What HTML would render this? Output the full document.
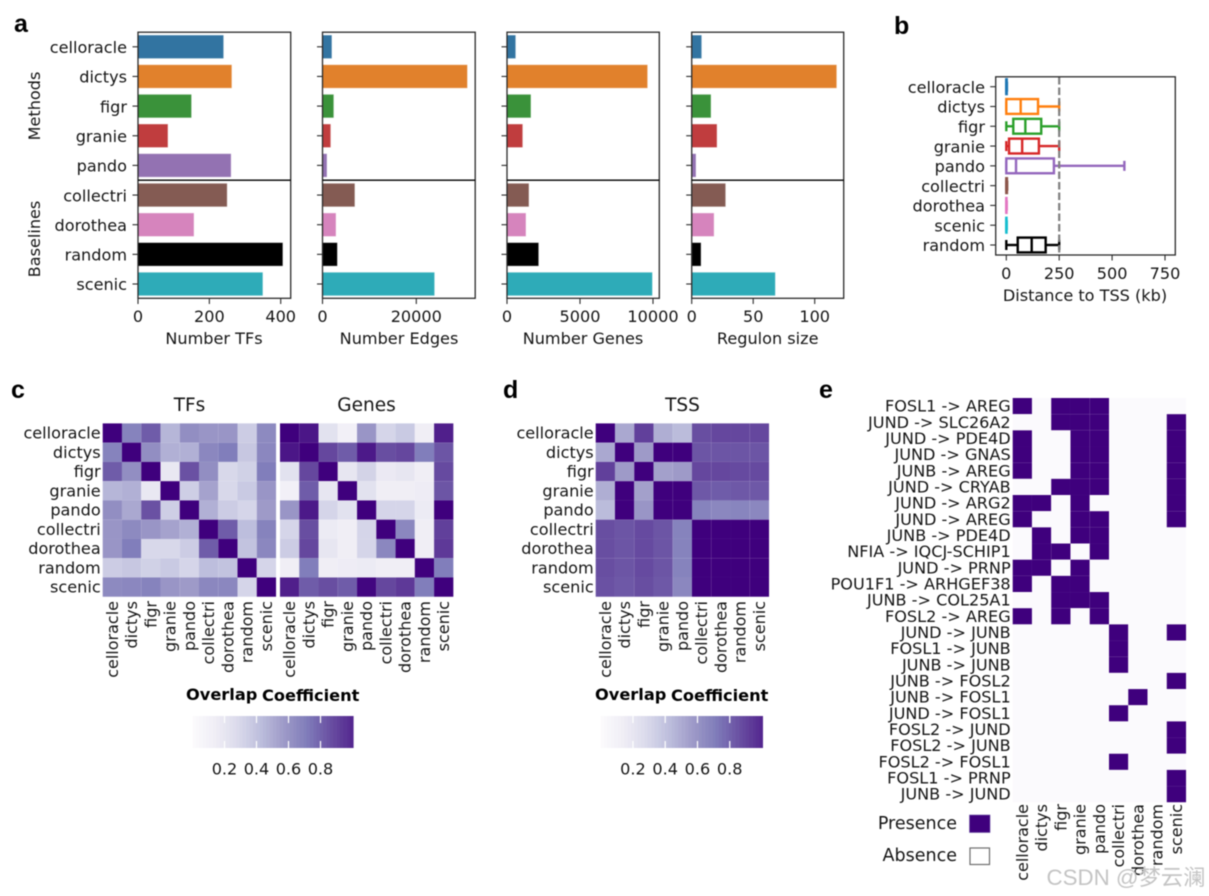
<!DOCTYPE html>
<html lang="en">
<head>
<meta charset="utf-8">
<title>GRN method comparison figure</title>
<style>
html,body{margin:0;padding:0;background:#fff;width:1209px;height:896px;overflow:hidden}
svg{display:block;filter:blur(.45px)}
text{font-family:"DejaVu Sans",sans-serif;fill:#151515;font-size:16.1px}
.panel{font-family:"Liberation Sans",sans-serif;font-weight:700;font-size:25px;fill:#000}
.title{font-size:18.5px}
.cbt{font-weight:700;font-size:16.2px;fill:#000}
.mid{text-anchor:middle}
.end{text-anchor:end}
.c{dominant-baseline:central}
</style>
</head>
<body>
<svg id="fig" width="1209" height="896" viewBox="0 0 1209 896" xmlns="http://www.w3.org/2000/svg">
  <rect width="1209" height="896" fill="#fff"/>
  <text class="panel" x="14" y="32">a</text>
  <text class="panel" x="894" y="34">b</text>
  <text class="panel" x="11" y="398">c</text>
  <text class="panel" x="503" y="398">d</text>
  <text class="panel" x="819" y="398">e</text>

  <text class="mid c" transform="translate(34.5,106) rotate(-90)">Methods</text>
  <text class="mid c" transform="translate(34.5,239) rotate(-90)">Baselines</text>
  <text class="mid c" x="214" y="338.7">Number TFs</text>
  <text class="mid c" x="399" y="338.7">Number Edges</text>
  <text class="mid c" x="583" y="338.7">Number Genes</text>
  <text class="mid c" x="767.7" y="338.7">Regulon size</text>
  <text class="mid c" x="1085" y="295.3">Distance to TSS (kb)</text>

  <text class="title mid c" x="189.5" y="405.5">TFs</text>
  <text class="title mid c" x="366.5" y="405.5">Genes</text>
  <text class="title mid c" x="682.5" y="405.5">TSS</text>

  <text class="cbt" x="186" y="700">Overlap<tspan x="262" y="701">Coefficient</tspan></text>
  <text class="cbt" x="595" y="700">Overlap<tspan x="671" y="701">Coefficient</tspan></text>

  <text class="end c" style="font-size:17.5px" x="957" y="824">Presence</text>
  <rect x="969.5" y="815" width="20.5" height="17.5" fill="#3f007d" stroke="#6a51a3" stroke-width=".6"/>
  <text class="end c" style="font-size:17.5px" x="957" y="856">Absence</text>
  <rect x="970" y="848" width="19.5" height="16.5" fill="#fff" stroke="#6e6e6e" stroke-width="1.2"/>

  <g id="marks"></g>

  <text x="1046.5" y="885" style="font-family:'Liberation Sans','Noto Sans CJK SC',sans-serif;font-size:22.3px;fill:#c4c4c4">CSDN @梦云澜</text>
</svg>
<script>
// ---------- data: panel a ----------
const barCategories = ['celloracle','dictys','figr','granie','pando','collectri','dorothea','random','scenic'];
const barColors = ['#3274a1','#e1812c','#3a923a','#c03d3e','#9372b2','#845b53','#d684bd','#000000','#2eabb8'];
const numberTFs = [240,263,150,84,261,250,157,406,350];
const numberEdges = [2000,30900,2400,1750,960,6900,2880,3170,23900];
const numberGenes = [595,9630,1640,1075,30,1505,1300,2170,9960];
const regulonSize = [8.1,117.9,15.7,20.6,3.5,27.6,18.2,7.6,68];
const tfTicks = [0,200,400];
const edgeTicks = [0,20000];
const geneTicks = [0,5000,10000];
const regulonTicks = [0,50,100];

// ---------- data: panel b ----------
const boxCategories = ['celloracle','dictys','figr','granie','pando','collectri','dorothea','scenic','random'];
const boxColors = ['#1f77b4','#ff7f0e','#2ca02c','#d62728','#9467bd','#8c564b','#e377c2','#17becf','#000000'];
const whiskerLow = [0,0,0,0,0,0,0,0,0];
const quartile1 = [0,0,33,13,0,0,0,0,54];
const medians = [0,68,90,75,46,1,0,0,120];
const quartile3 = [2,150,165,154,225,3,1,1,186];
const whiskerHigh = [3,250,250,250,558,4,2,2,250];
const distanceThreshold = [250];
const distanceTicks = [0,250,500,750];

// ---------- data: heatmaps ----------
const heatLabels = ['celloracle','dictys','figr','granie','pando','collectri','dorothea','random','scenic'];
const tfOverlap = [
 [1,.60,.72,.40,.55,.52,.52,.31,.57],
 [.60,1,.55,.42,.42,.58,.62,.33,.58],
 [.72,.55,1,.16,.75,.55,.26,.29,.62],
 [.40,.42,.16,1,.30,.47,.26,.32,.52],
 [.55,.45,.75,.30,1,.42,.31,.27,.50],
 [.52,.57,.52,.47,.42,1,.72,.37,.60],
 [.52,.62,.26,.26,.31,.72,1,.35,.58],
 [.31,.33,.29,.32,.27,.37,.35,1,.27],
 [.57,.58,.60,.52,.50,.58,.58,.27,1]
];
const geneOverlap = [
 [1,.93,.20,.10,.52,.27,.32,.12,.90],
 [.93,1,.78,.72,.92,.76,.78,.62,.74],
 [.20,.78,1,.17,.28,.15,.17,.12,.77],
 [.10,.72,.17,1,.20,.12,.12,.13,.74],
 [.52,.92,.27,.20,1,.27,.27,.14,1],
 [.27,.76,.14,.12,.27,1,.58,.12,.80],
 [.31,.78,.17,.12,.27,.58,1,.12,.82],
 [.12,.62,.12,.13,.14,.12,.12,1,.62],
 [.90,.72,.76,.72,.98,.78,.82,.62,1]
];
const tssOverlap = [
 [1,.45,.80,.43,.38,.76,.78,.78,.78],
 [.45,1,.50,1,1,.74,.74,.74,.74],
 [.80,.50,1,.48,.50,.78,.78,.77,.77],
 [.43,1,.48,1,1,.73,.72,.73,.73],
 [.38,1,.52,1,1,.60,.58,.59,.58],
 [.76,.74,.77,.74,.60,1,1,1,1],
 [.76,.74,.77,.74,.60,1,1,1,1],
 [.76,.74,.77,.74,.60,1,1,1,1],
 [.75,.73,.76,.73,.58,1,1,1,1]
];
const colorbarTicks = [.2,.4,.6,.8];

// ---------- data: panel e ----------
const edgeLabels = ['FOSL1 -> AREG','JUND -> SLC26A2','JUND -> PDE4D','JUND -> GNAS','JUNB -> AREG','JUND -> CRYAB','JUND -> ARG2','JUND -> AREG','JUNB -> PDE4D','NFIA -> IQCJ-SCHIP1','JUND -> PRNP','POU1F1 -> ARHGEF38','JUNB -> COL25A1','FOSL2 -> AREG','JUND -> JUNB','FOSL1 -> JUNB','JUNB -> JUNB','JUNB -> FOSL2','JUNB -> FOSL1','JUND -> FOSL1','FOSL2 -> JUND','FOSL2 -> JUNB','FOSL2 -> FOSL1','FOSL1 -> PRNP','JUNB -> JUND'];
const presence = [
 [1,0,1,1,1,0,0,0,0],[0,0,1,1,1,0,0,0,1],[1,0,0,1,1,0,0,0,1],[1,0,0,1,1,0,0,0,1],[1,0,0,1,1,0,0,0,1],
 [0,0,1,1,1,0,0,0,1],[1,1,0,1,0,0,0,0,1],[1,0,0,1,1,0,0,0,1],[0,1,0,1,1,0,0,0,0],[0,1,1,0,1,0,0,0,0],
 [1,1,0,1,0,0,0,0,0],[1,0,1,1,0,0,0,0,0],[0,0,1,1,1,0,0,0,0],[1,0,1,0,1,0,0,0,0],[0,0,0,0,0,1,0,0,1],
 [0,0,0,0,0,1,0,0,0],[0,0,0,0,0,1,0,0,0],[0,0,0,0,0,0,0,0,1],[0,0,0,0,0,0,1,0,0],[0,0,0,0,0,1,0,0,0],
 [0,0,0,0,0,0,0,0,1],[0,0,0,0,0,0,0,0,1],[0,0,0,0,0,1,0,0,0],[0,0,0,0,0,0,0,0,1],[0,0,0,0,0,0,0,0,1]
];

// ---------- helpers ----------
const root = document.getElementById('marks');
const NS = 'http://www.w3.org/2000/svg';
const DARK = '#2a2a2a';
function svgEl(tag, attrs, txt){
  const el = document.createElementNS(NS, tag);
  for (const k in attrs) el.setAttribute(k, attrs[k]);
  if (txt !== undefined) el.textContent = txt;
  root.appendChild(el);
  return el;
}
function linear(d0, r0, d1, r1){ return v => r0 + (v - d0) * (r1 - r0) / (d1 - d0); }
const stops = [[252,251,253],[239,237,245],[218,218,235],[188,189,220],[158,154,200],[128,125,186],[106,81,163],[84,39,143],[63,0,125]];
function purples(v){
  const t = Math.max(0, Math.min(1, v)) * 8, i = Math.min(7, Math.floor(t)), f = t - i;
  const c = stops[i].map((s, k) => Math.round(s + (stops[i + 1][k] - s) * f));
  return 'rgb(' + c.join(',') + ')';
}

// ---------- panel a: bar charts ----------
const barY = linear(0, 46.8, 8, 284);
const BAR_H = 23.5;
function drawBarPanel(key, values, ticks, x0, x1, scale, showLabels){
  barCategories.forEach((cat, i) => {
    const bar = svgEl('rect', {x: scale(0), y: barY(i) - BAR_H / 2, width: Math.max(0, scale(values[i]) - scale(0)), height: BAR_H, fill: barColors[i], stroke: '#fff', 'stroke-opacity': .45, 'stroke-width': .8});
    
    
    const tick = svgEl('line', {x1: x0 - 5.5, x2: x0, y1: barY(i), y2: barY(i), stroke: DARK, 'stroke-width': 1.1});
    
    
    if (showLabels){
      const lab = svgEl('text', {x: x0 - 11, y: barY(i) + .7, class: 'end c'}, cat);
      
      
    }
  });
  ticks.forEach(t => {
    const tick = svgEl('line', {x1: scale(t), x2: scale(t), y1: 298.3, y2: 304, stroke: DARK, 'stroke-width': 1.1});
    
    
    const lab = svgEl('text', {x: scale(t), y: 316.7, class: 'mid c'}, t);
    
    
  });
  const frame = svgEl('rect', {x: x0, y: 32.2, width: x1 - x0, height: 266.1, fill: 'none', stroke: DARK, 'stroke-width': 1.3});
  
  
  const div = svgEl('line', {x1: x0, x2: x1, y1: 180.2, y2: 180.2, stroke: '#000', 'stroke-width': 1.3});
  
  
}
drawBarPanel('number-tfs', numberTFs, tfTicks, 138, 290.7, linear(0, 138, 400, 280.7), true);
drawBarPanel('number-edges', numberEdges, edgeTicks, 322.5, 475.2, linear(0, 322.5, 20000, 416.3), false);
drawBarPanel('number-genes', numberGenes, geneTicks, 507, 659.3, linear(0, 507, 10000, 653), false);
drawBarPanel('regulon-size', regulonSize, regulonTicks, 691.7, 843.7, linear(0, 691.7, 100, 814.7), false);

// ---------- panel b: box plot ----------
const boxX = linear(0, 1006.3, 750, 1165);
const boxY = linear(0, 86.7, 8, 245);
const BOX_H = 14.8, CAP = 10;
boxCategories.forEach((cat, i) => {
  const col = boxColors[i], y = boxY(i), sw = 2.4;
  const tick = svgEl('line', {x1: 990.2, x2: 995.7, y1: y, y2: y, stroke: DARK, 'stroke-width': 1.1});
  
  
  const lab = svgEl('text', {x: 985, y: y + .7, class: 'end c'}, cat);
  
  
  const wl = svgEl('line', {x1: boxX(whiskerLow[i]), x2: boxX(quartile1[i]), y1: y, y2: y, stroke: col, 'stroke-width': sw});
  
  
  const wh = svgEl('line', {x1: boxX(quartile3[i]), x2: boxX(whiskerHigh[i]), y1: y, y2: y, stroke: col, 'stroke-width': sw});
  
  
  const cl = svgEl('line', {x1: boxX(whiskerLow[i]), x2: boxX(whiskerLow[i]), y1: y - CAP / 2, y2: y + CAP / 2, stroke: col, 'stroke-width': sw});
  
  
  const ch = svgEl('line', {x1: boxX(whiskerHigh[i]), x2: boxX(whiskerHigh[i]), y1: y - CAP / 2, y2: y + CAP / 2, stroke: col, 'stroke-width': sw});
  
  
  const box = svgEl('rect', {x: boxX(quartile1[i]), y: y - BOX_H / 2, width: boxX(quartile3[i]) - boxX(quartile1[i]), height: BOX_H, fill: '#fff', stroke: col, 'stroke-width': sw});
  
  
  const med = svgEl('line', {x1: boxX(medians[i]), x2: boxX(medians[i]), y1: y - BOX_H / 2, y2: y + BOX_H / 2, stroke: col, 'stroke-width': sw});
  
  
});
distanceThreshold.forEach(d => {
  const l = svgEl('line', {x1: boxX(d), x2: boxX(d), y1: 77, y2: 255, stroke: '#7f7f7f', 'stroke-width': 2.2, 'stroke-dasharray': '7.5 3'});
  
  
});
distanceTicks.forEach(t => {
  const tick = svgEl('line', {x1: boxX(t), x2: boxX(t), y1: 255, y2: 260.5, stroke: DARK, 'stroke-width': 1.1});
  
  
  const lab = svgEl('text', {x: boxX(t), y: 273.3, class: 'mid c'}, t);
  
  
});
const boxFrame = svgEl('rect', {x: 995.7, y: 76.8, width: 179.6, height: 178.2, fill: 'none', stroke: DARK, 'stroke-width': 1.3});



// ---------- panels c, d, e: heatmaps ----------
const HEAT_TOP = 423.4, HEAT_CELL = 19.26;
function drawHeatmap(key, matrix, x0, showY){
  matrix.forEach((row, r) => row.forEach((v, c) => {
    const cell = svgEl('rect', {x: x0 + c * HEAT_CELL, y: HEAT_TOP + r * HEAT_CELL, width: HEAT_CELL, height: HEAT_CELL, fill: purples(v)});
    
    
  }));
  heatLabels.forEach((name, i) => {
    const cx = x0 + (i + .5) * HEAT_CELL;
    const xl = svgEl('text', {transform: 'translate(' + cx + ',601) rotate(-90)', class: 'end c', style: 'font-size:16px'}, name);
    
    
    if (showY){
      const yl = svgEl('text', {x: x0 - 2, y: HEAT_TOP + (i + .5) * HEAT_CELL, class: 'end c'}, name);
      
      
    }
  });
}
drawHeatmap('tfs', tfOverlap, 102.7, true);
drawHeatmap('genes', geneOverlap, 280, false);
drawHeatmap('tss', tssOverlap, 595.7, true);

const E_X = 1012.7, E_Y = 398, E_W = 19.26, E_H = 16.17;
edgeLabels.forEach((name, r) => {
  const lab = svgEl('text', {x: 1010.7, y: E_Y + (r + .5) * E_H, class: 'end c'}, name);
  
  
  presence[r].forEach((v, c) => {
    const cell = svgEl('rect', {x: E_X + c * E_W, y: E_Y + r * E_H, width: E_W, height: E_H, fill: v ? '#3f007d' : '#fbfafd'});
    
    
  });
});
heatLabels.forEach((name, c) => {
  const xl = svgEl('text', {transform: 'translate(' + (E_X + (c + .5) * E_W) + ',804) rotate(-90)', class: 'end c', style: 'font-size:16px'}, name);
  
  
});

// ---------- colorbars ----------
function drawColorbar(key, x0, x1, scale){
  const n = 48, w = (x1 - x0) / n;
  for (let i = 0; i < n; i++){
    const seg = svgEl('rect', {x: x0 + i * w, y: 716, width: w + .3, height: 32, fill: purples((i + .5) / n * .88)});
    
    
  }
  colorbarTicks.forEach(t => {
    const top = svgEl('line', {x1: scale(t), x2: scale(t), y1: 716, y2: 723, stroke: '#fff', 'stroke-width': 1.2});
    
    
    const bot = svgEl('line', {x1: scale(t), x2: scale(t), y1: 741, y2: 748, stroke: '#fff', 'stroke-width': 1.2});
    
    
    const lab = svgEl('text', {x: scale(t), y: 769, class: 'mid c'}, t.toFixed(1));
    
    
  });
}
drawColorbar('c', 192.7, 353.3, linear(0, 192.5, 1, 352.5));
drawColorbar('d', 600.7, 762.7, linear(0, 600.7, 1, 762));
</script>
</body>
</html>
